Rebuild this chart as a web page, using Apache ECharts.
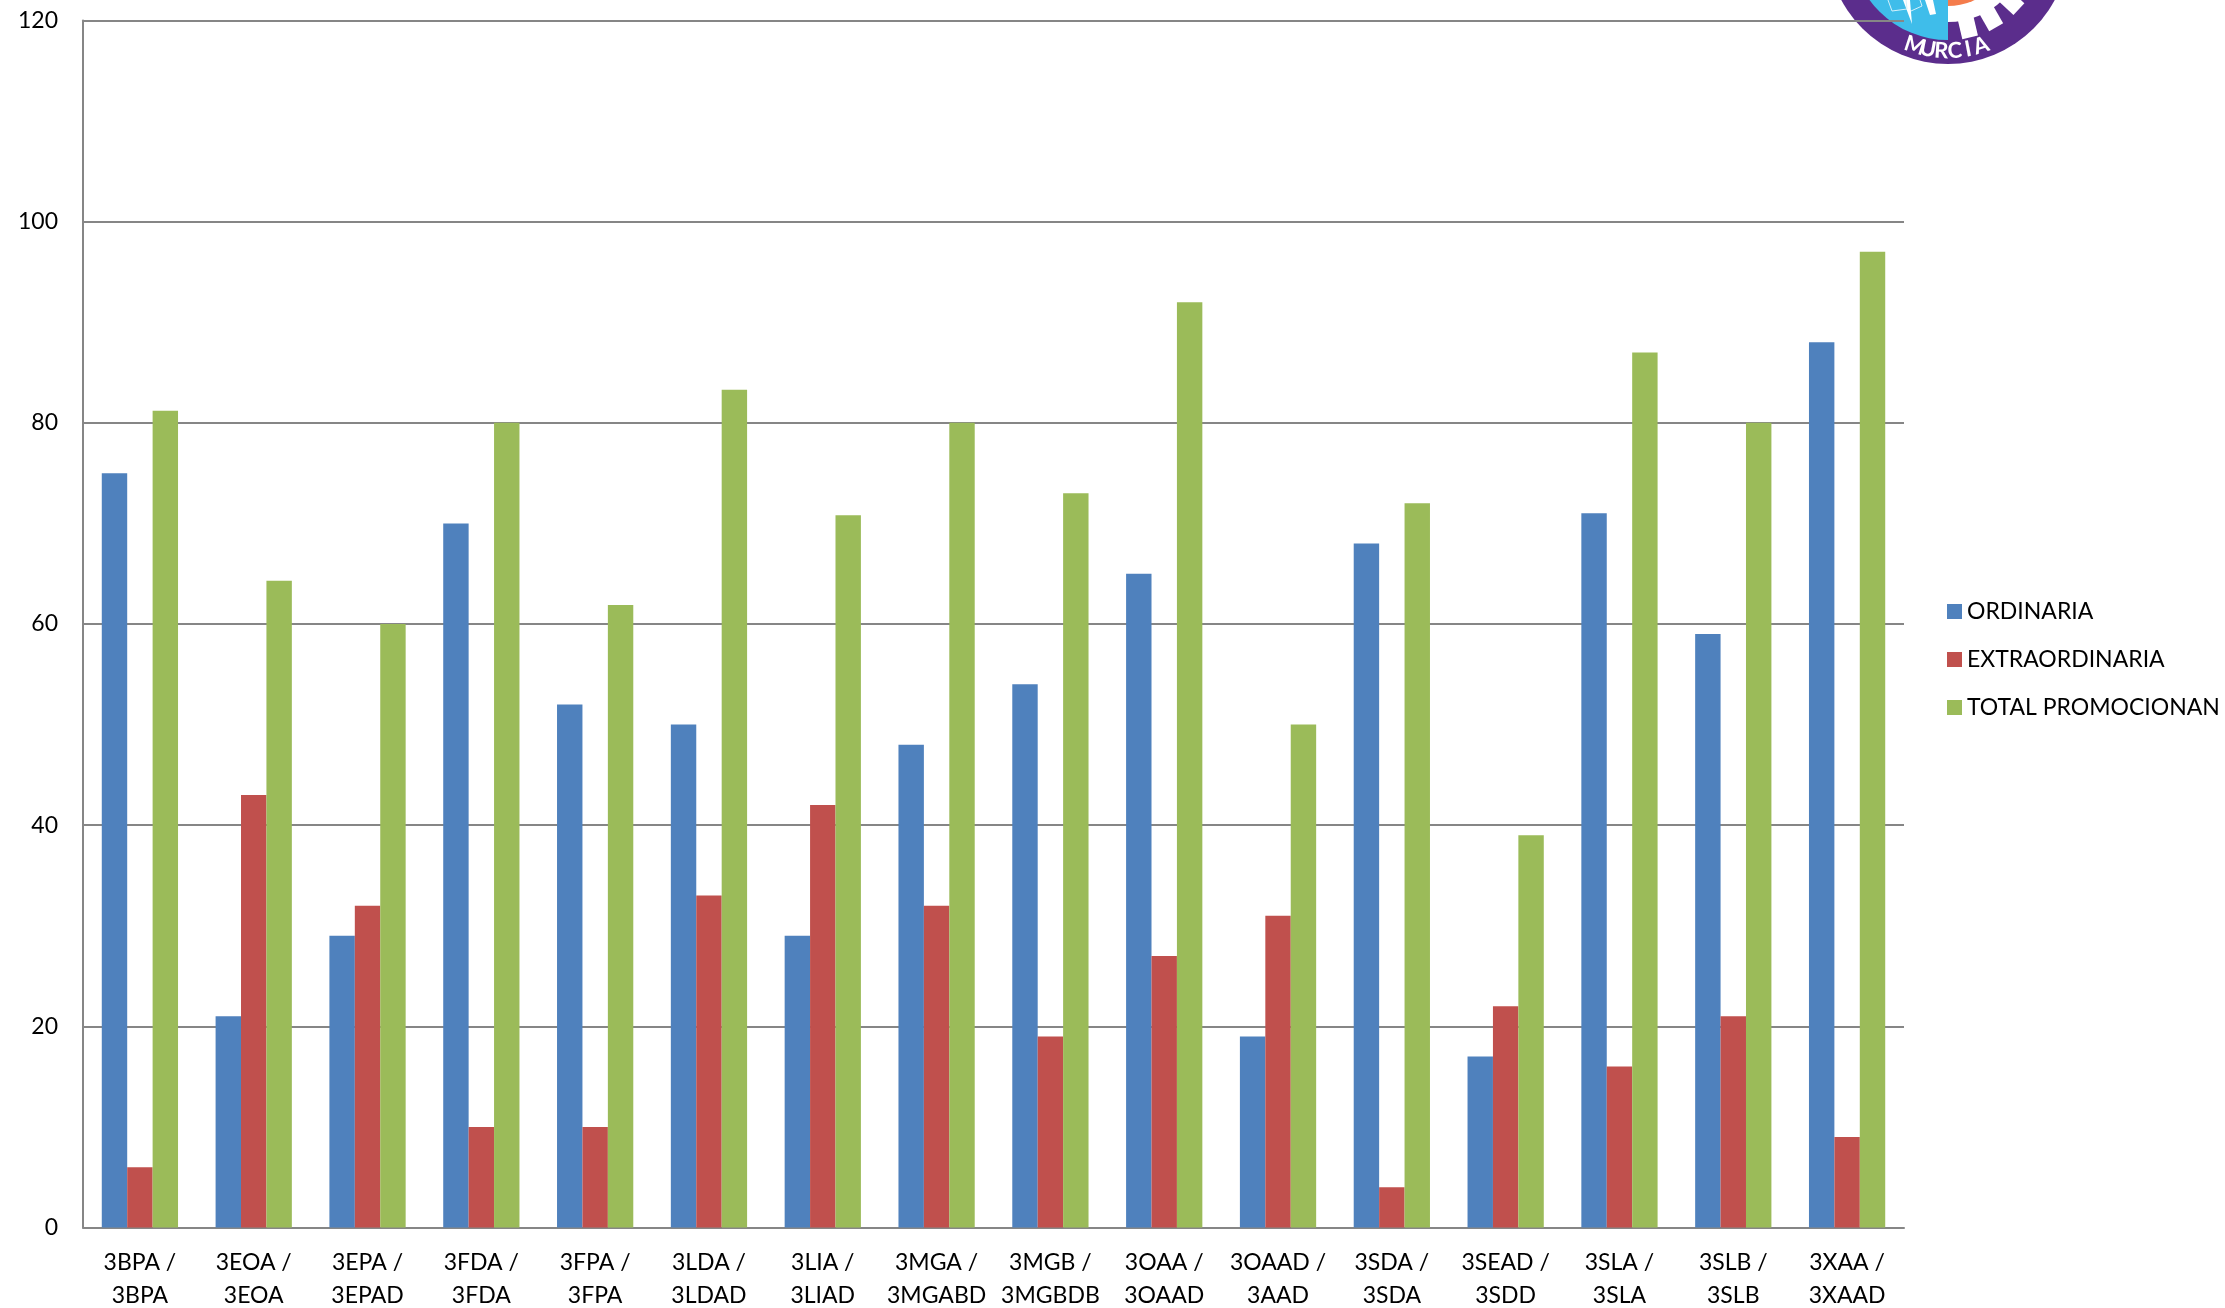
<!DOCTYPE html>
<html>
<head>
<meta charset="utf-8">
<style>html,body{margin:0;padding:0;background:#fff}#chart{width:2225px;height:1308px}</style>
<script src="https://cdn.jsdelivr.net/npm/echarts@6/dist/echarts.min.js"></script>
</head>
<body>
<div id="chart"></div>
<script>
var categories = ['3BPA /\n3BPA','3EOA /\n3EOA','3EPA /\n3EPAD','3FDA /\n3FDA','3FPA /\n3FPA','3LDA /\n3LDAD','3LIA /\n3LIAD','3MGA /\n3MGABD','3MGB /\n3MGBDB','3OAA /\n3OAAD','3OAAD /\n3AAD','3SDA /\n3SDA','3SEAD /\n3SDD','3SLA /\n3SLA','3SLB /\n3SLB','3XAA /\n3XAAD'];
var ordinaria = [75,21,29,70,52,50,29,48,54,65,19,68,17,71,59,88];
var extraordinaria = [6,43,32,10,10,33,42,32,19,27,31,4,22,16,21,9];
var totalPromocionan = [81.2,64.3,60,80,61.9,83.3,70.8,80,73,92,50,72,39,87,80,97];

var font = 'Lato';
var axisColor = '#868686';

var myChart = echarts.init(document.getElementById('chart'));

function bar(name, data, color) {
	return {
		name: name,
		type: 'bar',
		data: data,
		barGap: 0,
		barCategoryGap: '33%',
		itemStyle: {color: color},
		silent: true
	};
}

// logo, cut off by the top of the page
var logoX = 1948, logoY = -57;
var letters = 'MURCIA'.split('').map(function(c, i) {
	var a = (i - 2.5) * 0.125; // angle from the bottom of the circle
	return {
		type: 'text',
		x: logoX + Math.sin(a) * 108,
		y: logoY + Math.cos(a) * 108,
		rotation: a,
		style: {text: c, fill: '#fff', font: 'bold 22px ' + font, align: 'center', verticalAlign: 'middle'}
	};
});
var teeth = [0.23, 0.52, 0.82, 1.12].map(function(a) {
	return {
		type: 'rect',
		x: logoX,
		y: logoY,
		rotation: a,
		shape: {x: -8, y: 70, width: 16, height: 27},
		style: {fill: '#fff'}
	};
});
var logo = [
	{type: 'circle', shape: {cx: logoX, cy: logoY, r: 121}, style: {fill: '#5b2d8c'}},
	{type: 'sector', shape: {cx: logoX, cy: logoY, r: 97, r0: 0, startAngle: Math.PI / 2, endAngle: Math.PI}, style: {fill: '#3fbdea'}},
	{type: 'sector', shape: {cx: logoX, cy: logoY, r: 79, r0: 0, startAngle: 0, endAngle: Math.PI / 2}, style: {fill: '#ffffff'}},
	{type: 'sector', shape: {cx: logoX, cy: logoY, r: 63, r0: 0, startAngle: 0, endAngle: Math.PI / 2}, style: {fill: '#f47c4c'}},
	{type: 'polygon', shape: {points: [[1903, 0], [1910, 0], [1912, 24]]}, style: {fill: '#fff'}},
	{type: 'polygon', shape: {points: [[1925, 0], [1933, 0], [1936, 14], [1930, 15]]}, style: {fill: '#fff'}},
	{type: 'polyline', shape: {points: [[1888, 0], [1892, 11], [1907, 9], [1906, 0]]}, style: {stroke: '#d5f1fb', fill: 'none', lineWidth: 1}},
	{type: 'polyline', shape: {points: [[1920, 0], [1922, 6], [1911, 11]]}, style: {stroke: '#d5f1fb', fill: 'none', lineWidth: 1}}
].concat(teeth, letters);

var option = {
	animation: false,
	backgroundColor: '#fff',
	textStyle: {fontFamily: font},
	graphic: [{type: 'group', z: -1, silent: true, children: logo}],
	grid: {left: 83, right: 321, top: 20.5, bottom: 80.5, outerBoundsMode: 'none'},
	legend: {
		orient: 'vertical',
		left: 1947,
		top: 600,
		padding: 0,
		itemWidth: 15,
		itemHeight: 15,
		itemGap: 25,
		icon: 'rect',
		selectedMode: false,
		textStyle: {fontFamily: font, fontSize: 23, color: '#000'},
		data: ['ORDINARIA','EXTRAORDINARIA','TOTAL PROMOCIONAN']
	},
	xAxis: {
		type: 'category',
		data: categories,
		axisLine: {lineStyle: {color: axisColor, width: 2}},
		axisTick: {show: false},
		axisLabel: {color: '#000', fontFamily: font, fontSize: 23, lineHeight: 33, margin: 19, interval: 0}
	},
	yAxis: {
		type: 'value',
		min: 0,
		max: 120,
		interval: 20,
		axisLine: {show: true, lineStyle: {color: axisColor, width: 2}},
		axisTick: {show: false},
		axisLabel: {color: '#000', fontFamily: font, fontSize: 23, margin: 25},
		splitLine: {lineStyle: {color: axisColor, width: 2}}
	},
	series: [
		bar('ORDINARIA', ordinaria, '#4f81bd'),
		bar('EXTRAORDINARIA', extraordinaria, '#c0504d'),
		bar('TOTAL PROMOCIONAN', totalPromocionan, '#9bbb59')
	]
};
myChart.setOption(option);
</script>
</body>
</html>
